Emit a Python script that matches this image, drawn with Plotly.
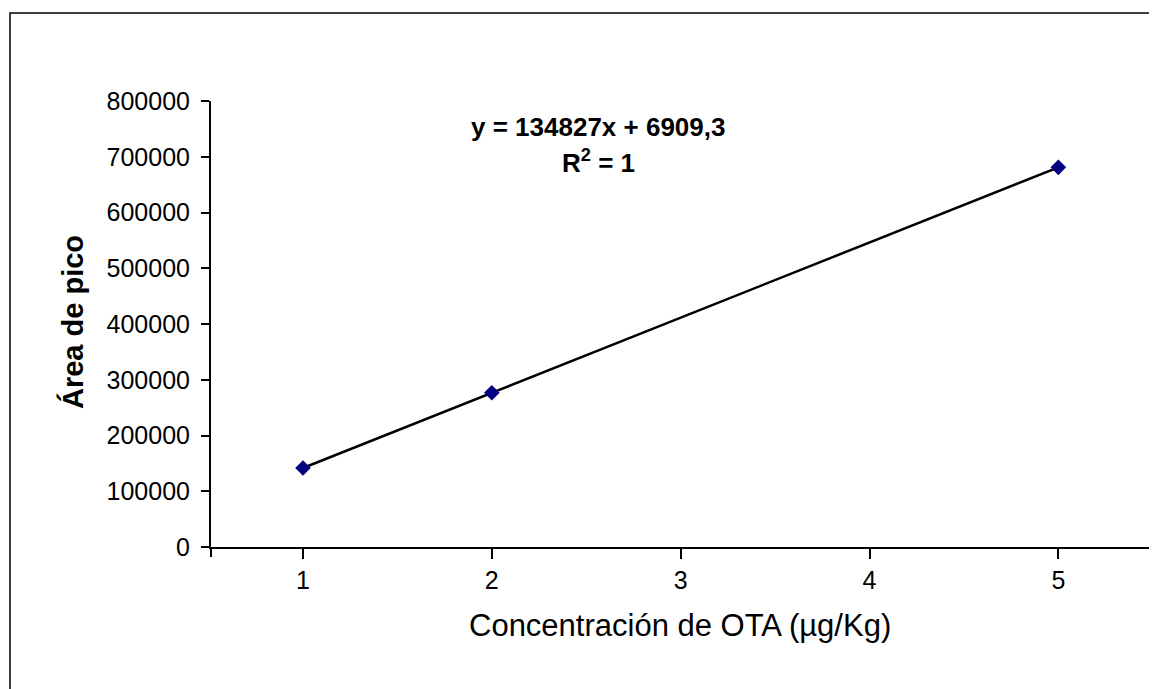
import plotly.graph_objects as go

# Data
conc = [1, 2, 5]
area = [141700, 276600, 681000]
slope = 134827
intercept = 6909.3
y_ticks = [0, 100000, 200000, 300000, 400000, 500000, 600000, 700000, 800000]
x_ticks = [1, 2, 3, 4, 5]

trend_x = [min(conc), max(conc)]
trend_y = [slope * v + intercept for v in trend_x]

W, H = 1157, 689
OFF = 8  # page body margin offset
# desired plot area in page pixels
PL, PR, PT, PB = 211, 1149, 101, 547
L = PL - OFF
T = PT - OFF
R = W - (PR - OFF)
B = H - (PB - OFF)
pw, ph = PR - PL, PB - PT

def px_x(p):  # page pixel -> paper
    return (p - PL) / pw

def px_y(p):
    return (PB - p) / ph

FONT = "Liberation Sans, Arial, sans-serif"

fig = go.Figure()
fig.add_trace(go.Scatter(x=trend_x, y=trend_y, mode="lines",
                         line=dict(color="black", width=2.5),
                         showlegend=False, hoverinfo="skip"))
fig.add_trace(go.Scatter(x=conc, y=area, mode="markers",
                         marker=dict(symbol="diamond", size=12, color="#000080"),
                         showlegend=False))

fig.update_layout(
    width=W, height=H,
    margin=dict(l=L, r=R, t=T, b=B, pad=0),
    paper_bgcolor="white", plot_bgcolor="white",
    font=dict(family=FONT, color="black", size=25),
    xaxis=dict(range=[0.513, 5.48], tickvals=x_ticks, ticktext=[str(v) for v in x_ticks],
               showgrid=False, zeroline=False, showline=True, linecolor="black", linewidth=2,
               ticks="outside", ticklen=10, tickwidth=2, tickcolor="black",
               tickfont=dict(size=25, family=FONT, color="black"), ticklabelstandoff=0),
    yaxis=dict(range=[0, 800000], tickvals=y_ticks, ticktext=[str(v) for v in y_ticks],
               showgrid=False, zeroline=False, showline=True, linecolor="black", linewidth=2,
               ticks="outside", ticklen=8, tickwidth=2, tickcolor="black",
               tickfont=dict(size=25, family=FONT, color="black"), ticklabelstandoff=6),
)

# y-axis extension below x-axis (Excel-style crossing)
fig.add_shape(type="line", xref="paper", yref="paper", x0=0, x1=0, y0=0, y1=px_y(557),
              line=dict(color="black", width=2))
# outer chart frame (extends beyond the visible image)
fig.add_shape(type="rect", xref="paper", yref="paper",
              x0=px_x(10), y0=px_y(720), x1=px_x(1200), y1=px_y(13),
              line=dict(color="black", width=1.5), layer="below")

fig.add_annotation(text="<b>Área de pico</b>", xref="paper", yref="paper",
                   x=px_x(72), y=px_y(322), textangle=-90, showarrow=False,
                   xanchor="center", yanchor="middle", font=dict(size=29, family=FONT, color="black"))
fig.add_annotation(text="Concentración de OTA (µg/Kg)", xref="paper", yref="paper",
                   x=px_x(680), y=px_y(625), showarrow=False,
                   xanchor="center", yanchor="middle", font=dict(size=31, family=FONT, color="black"))
fig.add_annotation(text="<b>y = 134827x + 6909,3</b>", xref="paper", yref="paper",
                   x=px_x(598), y=px_y(127), showarrow=False,
                   xanchor="center", yanchor="middle", font=dict(size=26, family=FONT, color="black"))
fig.add_annotation(text="<b>R<sup>2</sup> = 1</b>", xref="paper", yref="paper",
                   x=px_x(598), y=px_y(162), showarrow=False,
                   xanchor="center", yanchor="middle", font=dict(size=26, family=FONT, color="black"))

fig.write_html("out.html")
